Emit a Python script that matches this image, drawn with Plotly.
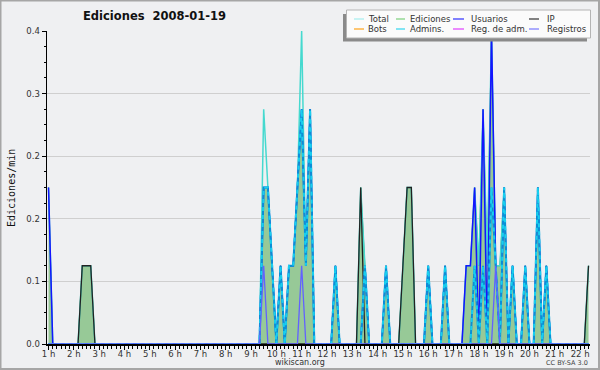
import plotly.graph_objects as go

# 10-minute bins starting 01:00 (hours)
n_bins = 129
hours = [1 + i / 6 for i in range(n_bins)]

hour_ticks = list(range(1, 23))
hour_labels = [f"{h} h" for h in hour_ticks]

y_ticks = [0, 0.08, 0.16, 0.24, 0.32, 0.4]

total = (
    [0.2, 0, 0, 0, 0, 0, 0, 0, 0.1, 0.1, 0.1, 0]
    + [0, 0, 0, 0, 0, 0, 0, 0, 0, 0, 0, 0]
    + [0, 0, 0, 0, 0, 0, 0, 0, 0, 0, 0, 0]
    + [0, 0, 0, 0, 0, 0, 0, 0, 0, 0, 0, 0]
    + [0, 0, 0, 0.3, 0.2, 0.1, 0, 0.1, 0, 0.1, 0.1, 0.2]
    + [0.4, 0.1, 0.3, 0, 0, 0, 0, 0, 0.1, 0, 0, 0]
    + [0, 0, 0.2, 0.1, 0, 0, 0, 0, 0.1, 0, 0, 0]
    + [0.1, 0.2, 0.2, 0, 0, 0, 0.1, 0, 0, 0, 0.1, 0]
    + [0, 0, 0, 0.1, 0.1, 0.2, 0.1, 0.3, 0.1, 0.4, 0.1, 0.1]
    + [0.2, 0, 0.1, 0, 0, 0.1, 0, 0, 0.2, 0, 0.1, 0]
    + [0, 0, 0, 0, 0, 0, 0, 0, 0.1]
)
ediciones = (
    [0.2, 0, 0, 0, 0, 0, 0, 0, 0.1, 0.1, 0.1, 0]
    + [0, 0, 0, 0, 0, 0, 0, 0, 0, 0, 0, 0]
    + [0, 0, 0, 0, 0, 0, 0, 0, 0, 0, 0, 0]
    + [0, 0, 0, 0, 0, 0, 0, 0, 0, 0, 0, 0]
    + [0, 0, 0, 0.2, 0.2, 0.1, 0, 0.1, 0, 0.1, 0.1, 0.2]
    + [0.3, 0.1, 0.3, 0, 0, 0, 0, 0, 0.1, 0, 0, 0]
    + [0, 0, 0.2, 0.1, 0, 0, 0, 0, 0.1, 0, 0, 0]
    + [0.1, 0.2, 0.2, 0, 0, 0, 0.1, 0, 0, 0, 0.1, 0]
    + [0, 0, 0, 0.1, 0.1, 0.2, 0.1, 0.3, 0.1, 0.4, 0.1, 0.1]
    + [0.2, 0, 0.1, 0, 0, 0.1, 0, 0, 0.2, 0, 0.1, 0]
    + [0, 0, 0, 0, 0, 0, 0, 0, 0.1]
)
usuarios = (
    [0.2, 0, 0, 0, 0, 0, 0, 0, 0, 0, 0, 0]
    + [0, 0, 0, 0, 0, 0, 0, 0, 0, 0, 0, 0]
    + [0, 0, 0, 0, 0, 0, 0, 0, 0, 0, 0, 0]
    + [0, 0, 0, 0, 0, 0, 0, 0, 0, 0, 0, 0]
    + [0, 0, 0, 0.2, 0.2, 0.1, 0, 0.1, 0, 0.1, 0.1, 0.2]
    + [0.3, 0.1, 0.3, 0, 0, 0, 0, 0, 0.1, 0, 0, 0]
    + [0, 0, 0, 0.1, 0, 0, 0, 0, 0.1, 0, 0, 0]
    + [0, 0, 0, 0, 0, 0, 0.1, 0, 0, 0, 0.1, 0]
    + [0, 0, 0, 0.1, 0.1, 0.2, 0, 0.3, 0, 0.4, 0.1, 0]
    + [0.2, 0, 0.1, 0, 0, 0.1, 0, 0, 0.2, 0, 0.1, 0]
    + [0, 0, 0, 0, 0, 0, 0, 0, 0]
)
ip = (
    [0, 0, 0, 0, 0, 0, 0, 0, 0.1, 0.1, 0.1, 0]
    + [0, 0, 0, 0, 0, 0, 0, 0, 0, 0, 0, 0]
    + [0, 0, 0, 0, 0, 0, 0, 0, 0, 0, 0, 0]
    + [0, 0, 0, 0, 0, 0, 0, 0, 0, 0, 0, 0]
    + [0, 0, 0, 0, 0, 0, 0, 0, 0, 0, 0, 0]
    + [0, 0, 0, 0, 0, 0, 0, 0, 0, 0, 0, 0]
    + [0, 0, 0.2, 0, 0, 0, 0, 0, 0, 0, 0, 0]
    + [0.1, 0.2, 0.2, 0, 0, 0, 0, 0, 0, 0, 0, 0]
    + [0, 0, 0, 0, 0, 0, 0, 0, 0, 0, 0, 0]
    + [0, 0, 0, 0, 0, 0, 0, 0, 0, 0, 0, 0]
    + [0, 0, 0, 0, 0, 0, 0, 0, 0.1]
)
admins = (
    [0, 0, 0, 0, 0, 0, 0, 0, 0, 0, 0, 0]
    + [0, 0, 0, 0, 0, 0, 0, 0, 0, 0, 0, 0]
    + [0, 0, 0, 0, 0, 0, 0, 0, 0, 0, 0, 0]
    + [0, 0, 0, 0, 0, 0, 0, 0, 0, 0, 0, 0]
    + [0, 0, 0, 0.2, 0.2, 0.1, 0, 0.1, 0, 0.1, 0.1, 0.2]
    + [0.3, 0.1, 0.3, 0, 0, 0, 0, 0, 0.1, 0, 0, 0]
    + [0, 0, 0, 0.1, 0, 0, 0, 0, 0.1, 0, 0, 0]
    + [0, 0, 0, 0, 0, 0, 0.1, 0, 0, 0, 0.1, 0]
    + [0, 0, 0, 0, 0, 0.1, 0, 0.1, 0, 0.2, 0.1, 0]
    + [0.2, 0, 0.1, 0, 0, 0.1, 0, 0, 0.2, 0, 0.1, 0]
    + [0, 0, 0, 0, 0, 0, 0, 0, 0]
)
registros = (
    [0, 0, 0, 0, 0, 0, 0, 0, 0, 0, 0, 0]
    + [0, 0, 0, 0, 0, 0, 0, 0, 0, 0, 0, 0]
    + [0, 0, 0, 0, 0, 0, 0, 0, 0, 0, 0, 0]
    + [0, 0, 0, 0, 0, 0, 0, 0, 0, 0, 0, 0]
    + [0, 0, 0, 0.1, 0, 0, 0, 0, 0, 0, 0, 0]
    + [0.1, 0, 0, 0, 0, 0, 0, 0, 0, 0, 0, 0]
    + [0, 0, 0, 0, 0, 0, 0, 0, 0, 0, 0, 0]
    + [0, 0, 0, 0, 0, 0, 0, 0, 0, 0, 0, 0]
    + [0, 0, 0, 0, 0, 0, 0, 0, 0, 0, 0.1, 0]
    + [0, 0, 0, 0, 0, 0, 0, 0, 0, 0, 0, 0]
    + [0, 0, 0, 0, 0, 0, 0, 0, 0]
)

legend_names = ["Total", "Ediciones", "Usuarios", "IP",
                "Bots", "Admins.", "Reg. de adm.", "Registros"]
colors = {
    "Total": "#45d9cf", "Ediciones": "#3f8f55", "Usuarios": "#1414ff",
    "IP": "#222222", "Bots": "#ffa31a", "Admins.": "#0a90d6",
    "Reg. de adm.": "#e040ff", "Registros": "#6262ff",
}
admins_stripe = "#18cfee"
legend_colors = {
    "Total": "#a6eeee", "Ediciones": "#7cd07c", "Usuarios": "#3030ff",
    "IP": "#333333", "Bots": "#ffa31a", "Admins.": "#33d6ee",
    "Reg. de adm.": "#e040ff", "Registros": "#7878ff",
}

BG = "#eff0f2"
W, H = 600, 370
ML, MR, MT, MB = 47, 10, 31, 26
PW, PH = W - ML - MR, H - MT - MB


def px(x):
    return (x - ML) / PW


def py(y):
    return (H - MB - y) / PH


fig = go.Figure()
fig.add_trace(go.Scatter(x=hours, y=ediciones, name="Ediciones", mode="lines",
                         fill="tozeroy", fillcolor="#97c997",
                         line=dict(color=colors["Ediciones"], width=1)))
fig.add_trace(go.Scatter(x=hours, y=total, name="Total", mode="lines",
                         line=dict(color=colors["Total"], width=1.5)))
fig.add_trace(go.Scatter(x=hours, y=ip, name="IP", mode="lines",
                         line=dict(color=colors["IP"], width=1.3)))
fig.add_trace(go.Scatter(x=hours, y=usuarios, name="Usuarios", mode="lines",
                         line=dict(color=colors["Usuarios"], width=1.5)))
fig.add_trace(go.Scatter(x=hours, y=admins, name="Admins.", mode="lines",
                         line=dict(color=colors["Admins."], width=2)))
fig.add_trace(go.Scatter(x=hours, y=admins, name="Admins.", mode="lines",
                         showlegend=False,
                         line=dict(color=admins_stripe, width=2, dash="4px,4px")))
fig.add_trace(go.Scatter(x=hours, y=registros, name="Registros", mode="lines",
                         line=dict(color=colors["Registros"], width=1.3)))

t_start = 1 + (-0.36) / 6
t_end = 1 + 128.35 / 6

shapes = []
annotations = []

# outer frame
shapes.append(dict(type="rect", xref="paper", yref="paper",
                   x0=px(0.5), x1=px(599), y0=py(369), y1=py(0.5),
                   line=dict(color="#a6a6a6", width=2), fillcolor="rgba(0,0,0,0)",
                   layer="above"))
# legend shadow + box
shapes.append(dict(type="rect", xref="paper", yref="paper",
                   x0=px(343), x1=px(587), y0=py(41.5), y1=py(14),
                   line=dict(width=0), fillcolor="#8a8a8a", layer="above"))
shapes.append(dict(type="rect", xref="paper", yref="paper",
                   x0=px(346.5), x1=px(590.5), y0=py(38), y1=py(10),
                   line=dict(color="#b4b4b4", width=1), fillcolor="#fbfbfb",
                   layer="above"))

sym_x = [(354, 364), (396, 405), (453, 464), (529, 539)]
txt_x = [366, 408, 469, 545]
row_y = [19, 29]
for i, name in enumerate(legend_names):
    r, c = divmod(i, 4)
    shapes.append(dict(type="line", xref="paper", yref="paper",
                       x0=px(sym_x[c][0]), x1=px(sym_x[c][1]),
                       y0=py(row_y[r]), y1=py(row_y[r]),
                       line=dict(color=legend_colors[name], width=1.2), layer="above"))
    annotations.append(dict(text=name, xref="paper", yref="paper",
                            x=px(txt_x[c]), y=py(row_y[r]), xanchor="left",
                            yanchor="middle", showarrow=False,
                            font=dict(family="DejaVu Sans", size=8.5, color="#333333")))

annotations.append(dict(text="<b>Ediciones\u00a0 2008-01-19</b>", xref="paper", yref="paper",
                        x=px(154), y=py(16), xanchor="center", yanchor="middle",
                        showarrow=False,
                        font=dict(family="DejaVu Sans", size=11.5, color="#111111")))
annotations.append(dict(text="Ediciones/min", xref="paper", yref="paper",
                        x=px(11), y=py(188), xanchor="center", yanchor="middle",
                        textangle=-90, showarrow=False,
                        font=dict(family="DejaVu Sans Mono", size=10, color="#111111")))
annotations.append(dict(text="wikiscan.org", xref="paper", yref="paper",
                        x=px(300), y=py(362), xanchor="center", yanchor="middle",
                        showarrow=False,
                        font=dict(family="DejaVu Sans", size=8, color="#333333")))
annotations.append(dict(text="CC BY-SA 3.0", xref="paper", yref="paper",
                        x=px(590), y=py(363), xanchor="right", yanchor="middle",
                        showarrow=False,
                        font=dict(family="DejaVu Sans", size=6.5, color="#444444")))

fig.update_layout(
    width=W, height=H,
    margin=dict(l=ML, r=MR, t=MT, b=MB, pad=0),
    paper_bgcolor=BG, plot_bgcolor=BG,
    showlegend=False, hovermode=False,
    shapes=shapes, annotations=annotations,
    xaxis=dict(range=[t_start, t_end], tickmode="array", tickvals=hour_ticks,
               ticktext=hour_labels, ticks="outside", ticklen=4, tickcolor="black",
               tickwidth=1, showgrid=False, zeroline=False, ticklabelstandoff=-3,
               showline=True, linecolor="black", linewidth=1.5,
               tickfont=dict(family="DejaVu Sans", size=8.5, color="#333333"),
               minor=dict(tickmode="linear", tick0=0, dtick=1 / 6, ticks="outside",
                          ticklen=3, tickcolor="black", showgrid=False)),
    yaxis=dict(range=[0, 0.4], tickmode="array", tickvals=y_ticks, tickformat=".1f",
               ticks="outside", ticklen=4, tickcolor="black",
               showgrid=True, gridcolor="#cfcfcf", gridwidth=1, zeroline=False,
               showline=True, linecolor="black", linewidth=1.5,
               tickfont=dict(family="DejaVu Sans", size=8.5, color="#333333"),
               minor=dict(tickmode="linear", tick0=0, dtick=0.02, ticks="outside",
                          ticklen=2, tickcolor="black", showgrid=False)),
)

fig.write_html("out.html", config={"displayModeBar": False, "staticPlot": True})

# remove the browser's default page margin so the figure sits at (0, 0)
with open("out.html", encoding="utf-8") as f:
    html = f.read()
html = html.replace("<head>", "<head><style>html,body{margin:0;padding:0;overflow:hidden;}</style>", 1)
with open("out.html", "w", encoding="utf-8") as f:
    f.write(html)
